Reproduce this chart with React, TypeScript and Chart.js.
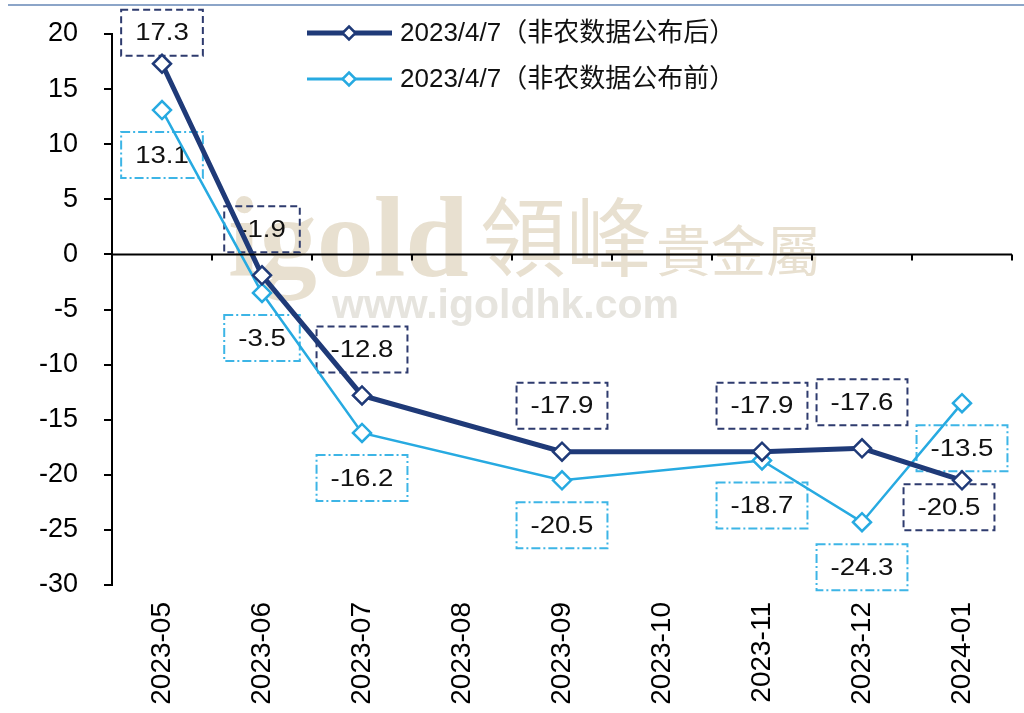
import React, { useEffect, useRef } from "react";
import { Chart, registerables } from "chart.js";

Chart.register(...registerables);

const categories = ["2023-05", "2023-06", "2023-07", "2023-08", "2023-09", "2023-10", "2023-11", "2023-12", "2024-01"];
const afterRelease: (number | null)[] = [17.3, -1.9, -12.8, null, -17.9, null, -17.9, -17.6, -20.5];
const beforeRelease: (number | null)[] = [13.1, -3.5, -16.2, null, -20.5, null, -18.7, -24.3, -13.5];
const seriesNames = ["2023/4/7（非农数据公布后）", "2023/4/7（非农数据公布前）"];
const yMin = -30;
const yMax = 20;
const yStep = 5;

const DARK = "#1F3A78";
const LIGHT = "#27AAE1";
const DARK_BOX = "#2E3B6E";
const LIGHT_BOX = "#3DB5E6";
const FONT = "'Liberation Sans', Arial, 'Noto Sans CJK SC', sans-serif";

function stretchText(ctx: CanvasRenderingContext2D, text: string, x: number, y: number, sx: number) {
  ctx.save();
  ctx.translate(x, y);
  ctx.scale(sx, 1);
  ctx.fillText(text, 0, 0);
  ctx.restore();
}

function diamond(ctx: CanvasRenderingContext2D, x: number, y: number, r: number, color: string, lw: number) {
  ctx.save();
  ctx.beginPath();
  ctx.moveTo(x, y - r);
  ctx.lineTo(x + r, y);
  ctx.lineTo(x, y + r);
  ctx.lineTo(x - r, y);
  ctx.closePath();
  ctx.fillStyle = "#fff";
  ctx.fill();
  ctx.lineWidth = lw;
  ctx.strokeStyle = color;
  ctx.stroke();
  ctx.restore();
}

const framePlugin = {
  id: "frame",
  beforeDraw(chart: any) {
    const ctx = chart.ctx as CanvasRenderingContext2D;
    ctx.save();
    ctx.fillStyle = "#fff";
    ctx.fillRect(0, 0, chart.width, chart.height);
    ctx.strokeStyle = "#8CA5C8";
    ctx.lineWidth = 2;
    ctx.beginPath();
    ctx.moveTo(8, 5);
    ctx.lineTo(chart.width, 5);
    ctx.stroke();
    ctx.restore();
  },
};

const watermarkPlugin = {
  id: "watermark",
  beforeDatasetsDraw(chart: any) {
    const ctx = chart.ctx as CanvasRenderingContext2D;
    ctx.save();
    ctx.textBaseline = "alphabetic";
    ctx.textAlign = "left";
    ctx.fillStyle = "#E8E0D0";
    ctx.font = "bold 114px 'Liberation Serif', serif";
    ctx.fillText("igold", 228, 276);
    ctx.font = "86px 'Noto Sans CJK TC', 'Noto Sans CJK SC', sans-serif";
    ctx.fillText("領峰", 480, 270);
    ctx.font = "55px 'Noto Sans CJK TC', 'Noto Sans CJK SC', sans-serif";
    ctx.fillText("貴金屬", 656, 271);
    ctx.fillStyle = "#E6E4DE";
    ctx.font = "bold 41px 'Liberation Sans', Arial, sans-serif";
    ctx.fillText("www.igoldhk.com", 332, 318);
    ctx.restore();
  },
};

const zeroAxisPlugin = {
  id: "zeroAxis",
  afterDatasetsDraw(chart: any) {
    const ctx = chart.ctx as CanvasRenderingContext2D;
    const x = chart.scales.x;
    const y = chart.scales.y;
    const y0 = y.getPixelForValue(0);
    const step = x.getPixelForValue(1) - x.getPixelForValue(0);
    ctx.save();
    ctx.strokeStyle = "#000";
    ctx.lineWidth = 2;
    ctx.beginPath();
    ctx.moveTo(chart.chartArea.left, y0);
    ctx.lineTo(chart.chartArea.right, y0);
    for (let i = 0; i < categories.length; i++) {
      const bx = x.getPixelForValue(i) + step / 2;
      ctx.moveTo(bx, y0);
      ctx.lineTo(bx, y0 + 6);
    }
    ctx.stroke();
    ctx.restore();
  },
};

function labelPlacement(ds: number, idx: number, n: number) {
  if (ds === 0) {
    if (idx === 0) return { dx: 0, dy: -31 };
    if (idx === n - 1) return { dx: -13, dy: 27 };
    return { dx: 0, dy: -46 };
  }
  return { dx: 0, dy: 45 };
}

const dataLabelPlugin = {
  id: "dataLabels",
  beforeDatasetsDraw(chart: any) {
    const ctx = chart.ctx as CanvasRenderingContext2D;
    const sx = 1.15;
    ctx.save();
    ctx.font = `24px ${FONT}`;
    ctx.textBaseline = "middle";
    ctx.textAlign = "center";
    chart.data.datasets.forEach((dset: any, di: number) => {
      const meta = chart.getDatasetMeta(di);
      dset.data.forEach((v: number | null, i: number) => {
        if (v === null || v === undefined) return;
        const pt = meta.data[i];
        const { dx, dy } = labelPlacement(di, i, dset.data.length);
        const cx = pt.x + dx;
        const cy = pt.y + dy;
        const txt = v.toFixed(1);
        const tw = ctx.measureText(txt).width * sx;
        const w = tw + 28;
        const h = 46;
        ctx.save();
        ctx.lineWidth = 2;
        ctx.strokeStyle = di === 0 ? DARK_BOX : LIGHT_BOX;
        ctx.setLineDash(di === 0 ? [7, 4] : [9, 3, 2, 3]);
        ctx.strokeRect(cx - w / 2, cy - h / 2, w, h);
        ctx.restore();
        ctx.fillStyle = "#111";
        stretchText(ctx, txt, cx, cy + 1, sx);
      });
    });
    ctx.restore();
  },
};

const legendPlugin = {
  id: "customLegend",
  afterDraw(chart: any) {
    const ctx = chart.ctx as CanvasRenderingContext2D;
    const rows = [
      { y: 33, color: DARK, lw: 5 },
      { y: 79, color: LIGHT, lw: 3 },
    ];
    ctx.save();
    rows.forEach((r, i) => {
      ctx.strokeStyle = r.color;
      ctx.lineWidth = r.lw;
      ctx.beginPath();
      ctx.moveTo(307, r.y);
      ctx.lineTo(392, r.y);
      ctx.stroke();
      diamond(ctx, 349, r.y, 6.5, r.color, 2.5);
      ctx.fillStyle = "#111";
      ctx.font = `26px ${FONT}`;
      ctx.textBaseline = "middle";
      ctx.textAlign = "left";
      ctx.fillText(seriesNames[i], 400, r.y + 1);
    });
    ctx.restore();
  },
};

export default function App() {
  const ref = useRef<HTMLCanvasElement | null>(null);
  useEffect(() => {
    if (!ref.current) return;
    const chart = new Chart(ref.current, {
      type: "line",
      data: {
        labels: categories,
        datasets: [
          {
            label: seriesNames[0],
            data: afterRelease,
            borderColor: DARK,
            borderWidth: 5,
            pointStyle: "rectRot",
            pointRadius: 9,
            pointBackgroundColor: "#fff",
            pointBorderColor: DARK,
            pointBorderWidth: 2.5,
            spanGaps: true,
            tension: 0,
          },
          {
            label: seriesNames[1],
            data: beforeRelease,
            borderColor: LIGHT,
            borderWidth: 2.5,
            pointStyle: "rectRot",
            pointRadius: 9,
            pointBackgroundColor: "#fff",
            pointBorderColor: LIGHT,
            pointBorderWidth: 2.5,
            spanGaps: true,
            tension: 0,
          },
        ],
      },
      options: {
        responsive: false,
        animation: false,
        layout: { padding: { top: 34, right: 12, left: 0, bottom: 0 } },
        plugins: { legend: { display: false }, tooltip: { enabled: false } },
        scales: {
          x: {
            type: "category",
            offset: true,
            grid: { display: false, drawTicks: false },
            border: { display: false },
            ticks: {
              autoSkip: false,
              minRotation: 90,
              maxRotation: 90,
              padding: 17,
              color: "#000",
              font: { family: FONT, size: 28 },
            },
            afterFit: (s: any) => {
              s.height = 128;
              s.paddingLeft = 0;
              s.paddingRight = 0;
            },
          },
          y: {
            min: yMin,
            max: yMax,
            ticks: {
              stepSize: yStep,
              padding: 26,
              color: "#000",
              font: { family: FONT, size: 27 },
            },
            grid: { drawOnChartArea: false, drawTicks: true, tickLength: 8, color: "#000", lineWidth: 2 },
            border: { display: true, color: "#000", width: 2 },
            afterFit: (s: any) => {
              s.width = 112;
              s.paddingTop = 0;
              s.paddingBottom = 0;
            },
          },
        },
      } as any,
      plugins: [framePlugin, watermarkPlugin, zeroAxisPlugin, dataLabelPlugin, legendPlugin],
    });
    return () => chart.destroy();
  }, []);
  return (
    <div style={{ position: "absolute", left: 0, top: 0, width: 1024, height: 713 }}>
      <canvas ref={ref} width={1024} height={713} style={{ display: "block" }} />
    </div>
  );
}
